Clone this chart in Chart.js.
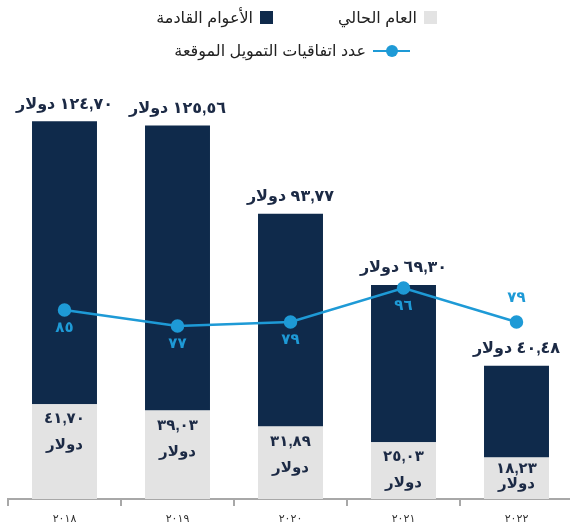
<!DOCTYPE html>
<html><head><meta charset="utf-8">
<script src="https://cdn.jsdelivr.net/npm/chart.js@4/dist/chart.umd.min.js"></script>
<style>
html,body{margin:0;padding:0;width:570px;height:529px;overflow:hidden;background:#fff;}
#wrap{position:absolute;left:0;top:0;width:581px;height:529px;}
#legend{position:absolute;left:0;top:0;width:570px;height:70px;font-family:Arial,'Liberation Sans','DejaVu Sans',sans-serif;font-size:16px;color:#222;}
.row{position:absolute;display:flex;align-items:center;direction:rtl;}
.item{display:flex;align-items:center;direction:rtl;}
.sq{width:13px;height:13px;margin-left:7px;flex:none;}
.ln{position:relative;width:37px;height:12px;margin-left:7px;flex:none;}
.ln:before{content:'';position:absolute;left:0;right:0;top:5px;height:2.5px;}
.ln:after{content:'';position:absolute;left:12.5px;top:0;width:12px;height:12px;border-radius:50%;}
</style></head>
<body>
<div id="wrap"><canvas id="c" width="581" height="529"></canvas></div>
<div id="legend"></div>
<script>
const years = ['2018','2019','2020','2021','2022'];
const currentYear = [41.70, 39.03, 31.89, 25.03, 18.23];
const futureYears = [124.70, 125.56, 93.77, 69.30, 40.48];
const agreements = [85, 77, 79, 96, 79];
const seriesNames = ['العام الحالي', 'الأعوام القادمة', 'عدد اتفاقيات التمويل الموقعة'];
const currencyWord = 'دولار';

const colLight = '#e3e3e3', colDark = '#0f2a4b', colLine = '#1e9ad6', colText = '#1c2a45';
const FONT = "Arial, 'Liberation Sans', 'DejaVu Sans', sans-serif";

function toArabicDigits(s){ return String(s).replace(/[0-9]/g, d => '٠١٢٣٤٥٦٧٨٩'[+d]); }
function fmtMoney(v){ return toArabicDigits(v.toFixed(2).replace('.', ',')); }

// legend (HTML, built from series names)
(function(){
  const lg = document.getElementById('legend');
  const r1 = document.createElement('div'); r1.className='row'; r1.style.right='133px'; r1.style.top='8px';
  const r2 = document.createElement('div'); r2.className='row'; r2.style.right='160px'; r2.style.top='41px';
  function item(kind, color, text, gap){
    const it = document.createElement('div'); it.className='item';
    if (gap) it.style.marginLeft = gap+'px';
    const m = document.createElement('span');
    if (kind==='sq'){ m.className='sq'; m.style.background=color; }
    else { m.className='ln'; }
    const t = document.createElement('span'); t.textContent = text;
    it.appendChild(m); it.appendChild(t); return it;
  }
  r1.appendChild(item('sq', colLight, seriesNames[0], 65));
  r1.appendChild(item('sq', colDark, seriesNames[1]));
  r2.appendChild(item('ln', colLine, seriesNames[2]));
  lg.appendChild(r1); lg.appendChild(r2);
  const st = document.createElement('style');
  st.textContent = '.ln:before{background:'+colLine+'}.ln:after{background:'+colLine+'}';
  document.head.appendChild(st);
})();

const lineLabelPlacement = ['below','below','below','below','above'];

const labelPlugin = {
  id: 'valueLabels',
  afterDatasetsDraw(chart){
    const ctx = chart.ctx;
    const bottom = chart.chartArea.bottom;
    ctx.save();
    ctx.direction = 'rtl';
    ctx.textAlign = 'center';
    ctx.textBaseline = 'middle';
    const mL = chart.getDatasetMeta(0), mD = chart.getDatasetMeta(1), mP = chart.getDatasetMeta(2);
    ctx.fillStyle = colText;
    ctx.font = 'bold 15px ' + FONT;
    mL.data.forEach((bar, i) => {
      const top = bar.y;
      const l2 = Math.min(top + 41, bottom - 15);
      const l1 = Math.min(top + 15, l2 - 15);
      ctx.fillText(fmtMoney(currentYear[i]), bar.x, l1);
      ctx.fillText(currencyWord, bar.x, l2);
    });
    ctx.font = 'bold 16px ' + FONT;
    mD.data.forEach((bar, i) => {
      ctx.fillText(fmtMoney(futureYears[i]) + ' ' + currencyWord, bar.x, bar.y - 17);
    });
    ctx.fillStyle = colLine;
    ctx.font = 'bold 15px ' + FONT;
    mP.data.forEach((pt, i) => {
      const y = lineLabelPlacement[i] === 'above' ? pt.y - 24 : pt.y + 18;
      ctx.fillText(toArabicDigits(agreements[i]), pt.x, y);
    });
    ctx.restore();
  }
};

new Chart(document.getElementById('c'), {
  data: {
    labels: years,
    datasets: [
      { type:'bar', label: seriesNames[0], data: currentYear, backgroundColor: colLight, stack:'s', order:1, yAxisID:'y',
        categoryPercentage:1, barPercentage:0.575 },
      { type:'bar', label: seriesNames[1], data: futureYears, backgroundColor: colDark, stack:'s', order:1, yAxisID:'y',
        categoryPercentage:1, barPercentage:0.575 },
      { type:'line', label: seriesNames[2], data: agreements, borderColor: colLine, backgroundColor: colLine, borderWidth:2.5,
        pointRadius:5.5, pointBackgroundColor: colLine, pointBorderColor: colLine, order:0, yAxisID:'y1', tension:0 }
    ]
  },
  options: {
    responsive:false, animation:false, devicePixelRatio:1,
    layout:{ padding:{ top:80, left:8, right:0, bottom:0 } },
    plugins:{ legend:{display:false}, tooltip:{enabled:false} },
    scales:{
      x:{ stacked:true, offset:true,
        grid:{ offset:true, drawOnChartArea:false, drawTicks:true, tickLength:7, color:'#a8a8a8', lineWidth:2 },
        border:{ display:true, color:'#a8a8a8', width:2 },
        ticks:{ color:'#333', font:{ family:FONT, size:11 }, padding:6, callback:(v,i)=>toArabicDigits(years[i]) },
        afterFit:(s)=>{ s.height = 30; } },
      y:{ stacked:true, display:false, min:0, max:184.6 },
      y1:{ display:false, min:-9.5, max:200 }
    }
  },
  plugins:[labelPlugin]
});
</script>
</body></html>
